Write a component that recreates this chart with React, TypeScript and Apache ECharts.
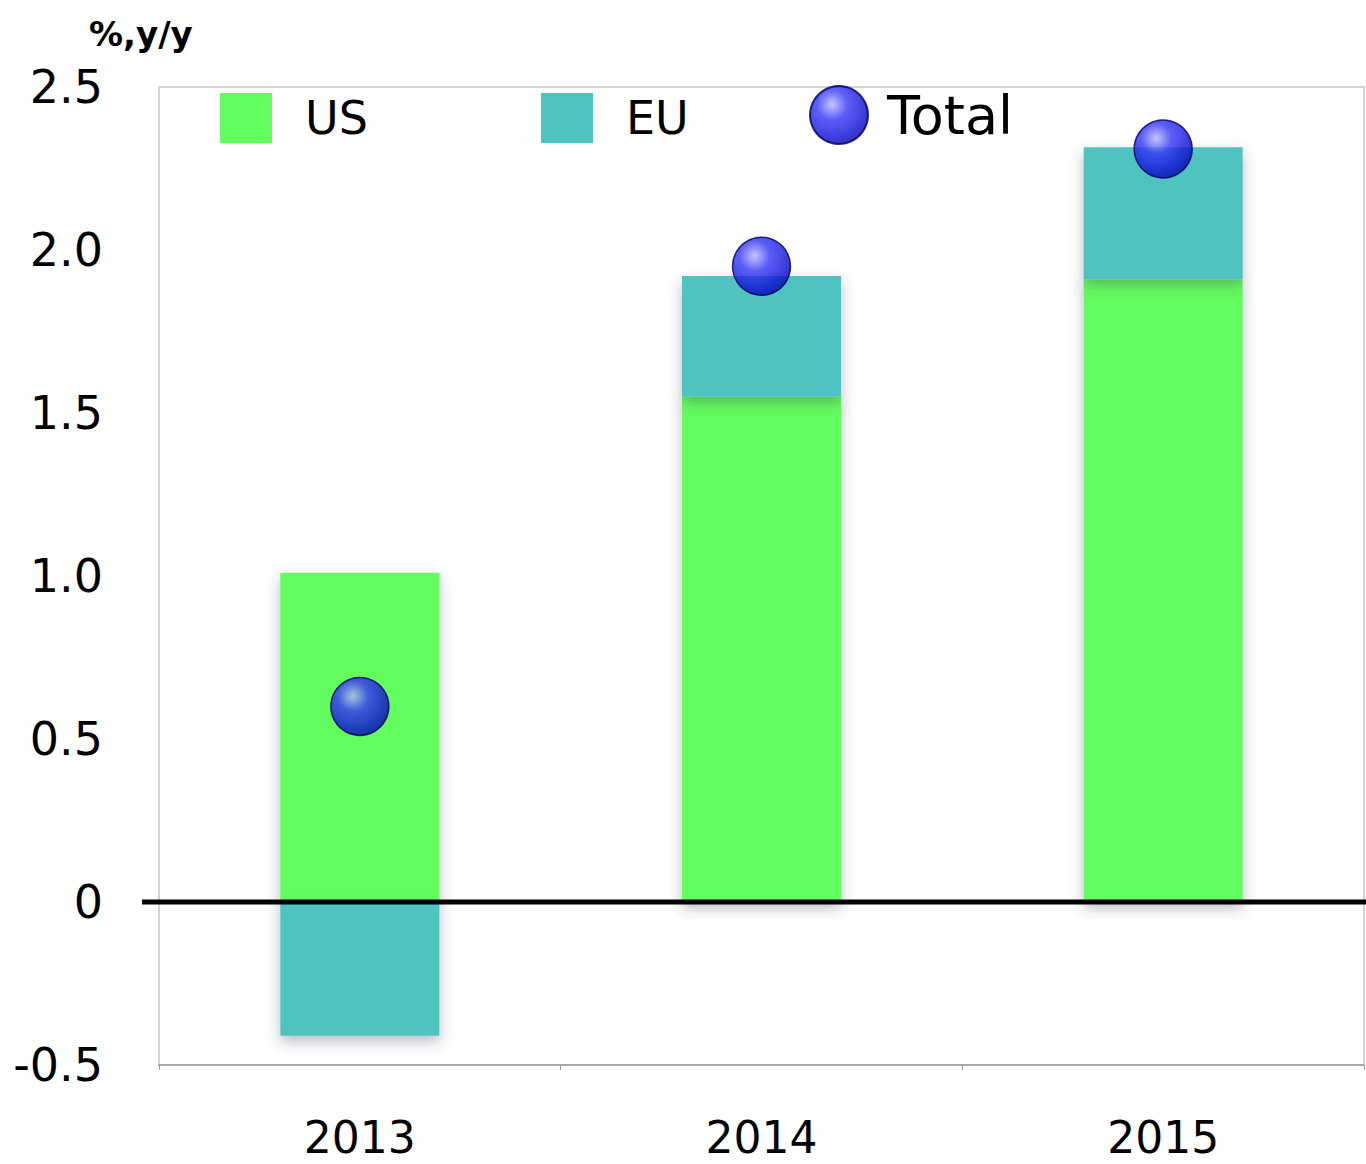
import React, { useEffect, useRef } from "react";
import * as echarts from "echarts";

const categories = ["2013", "2014", "2015"];
const usValues = [1.01, 1.55, 1.91];
const euValues = [-0.41, 0.37, 0.405];
const totalValues = [0.6, 1.95, 2.31];
const yTicks = { min: -0.5, max: 2.5, interval: 0.5 };

const FONT = "DejaVu Sans";

export default function App() {
  const ref = useRef<HTMLDivElement>(null);
  useEffect(() => {
    const chart = echarts.init(ref.current!, null, { renderer: "svg" });
    const sphere = {
      type: "radial",
      x: 0.38,
      y: 0.32,
      r: 0.75,
      colorStops: [
        { offset: 0, color: "#b4b6ff" },
        { offset: 0.35, color: "#3535f5" },
        { offset: 0.8, color: "#0a0ad0" },
        { offset: 1, color: "#00008a" },
      ],
    };
    const legendText = (size: number, pad: number) => ({
      fontFamily: FONT,
      fontSize: size,
      color: "#000",
      padding: [0, 0, 0, pad],
    });
    chart.setOption({
      animation: false,
      backgroundColor: "#fff",
      title: {
        text: "%,y/y",
        left: 84,
        top: 12,
        textStyle: { fontFamily: FONT, fontSize: 34, fontWeight: "bold", color: "#000" },
      },
      legend: [
        {
          data: ["US"],
          left: 215,
          top: 88,
          itemWidth: 52,
          itemHeight: 50,
          icon: "rect",
          textStyle: legendText(46, 28),
          selectedMode: false,
        },
        {
          data: ["EU"],
          left: 536,
          top: 88,
          itemWidth: 52,
          itemHeight: 50,
          icon: "rect",
          textStyle: legendText(46, 28),
          selectedMode: false,
        },
        {
          data: ["Total"],
          left: 804,
          top: 80,
          itemWidth: 58,
          itemHeight: 58,
          icon: "circle",
          textStyle: legendText(54, 14),
          selectedMode: false,
        },
      ],
      grid: {
        left: 159,
        right: 2,
        top: 87,
        bottom: 99,
        show: true,
        borderColor: "#c4c4c4",
        borderWidth: 1.5,
        backgroundColor: "#fff",
      },
      xAxis: {
        type: "category",
        data: categories,
        axisLine: { onZero: false, lineStyle: { color: "#9a9a9a", width: 1.5 } },
        axisTick: { show: true, length: 5, lineStyle: { color: "#9a9a9a" } },
        axisLabel: { fontFamily: FONT, fontSize: 44, color: "#000", margin: 50 },
        splitLine: { show: false },
      },
      yAxis: {
        type: "value",
        min: yTicks.min,
        max: yTicks.max,
        interval: yTicks.interval,
        axisLine: { show: false },
        axisTick: { show: false },
        splitLine: { show: false },
        axisLabel: {
          fontFamily: FONT,
          fontSize: 46,
          color: "#000",
          margin: 56,
          formatter: (v: number) => (v === 0 ? "0" : v.toFixed(1)),
        },
      },
      series: [
        {
          name: "US",
          type: "bar",
          stack: "total",
          data: usValues,
          barWidth: 159,
          itemStyle: {
            color: "#63fd5e",
            shadowColor: "rgba(60,60,90,0.35)",
            shadowBlur: 14,
            shadowOffsetY: 6,
          },
          z: 2,
        },
        {
          name: "EU",
          type: "bar",
          stack: "total",
          data: euValues,
          barWidth: 159,
          itemStyle: {
            color: "#4fc3c0",
            shadowColor: "rgba(60,60,90,0.35)",
            shadowBlur: 14,
            shadowOffsetY: 6,
          },
          z: 2,
        },
        {
          name: "Total",
          type: "scatter",
          data: totalValues,
          symbol: "circle",
          symbolSize: 58,
          itemStyle: { color: sphere, borderColor: "#000060", borderWidth: 1.5 },
          z: 5,
        },
      ],
    });
    const y0 = chart.convertToPixel({ yAxisIndex: 0 }, 0) as number;
    chart.setOption({
      graphic: [
        {
          type: "line",
          shape: { x1: 142, y1: y0, x2: 1366, y2: y0 },
          style: { stroke: "#000", lineWidth: 5 },
          z: 10,
        },
      ],
    });
    return () => chart.dispose();
  }, []);
  return (
    <div
      ref={ref}
      style={{ position: "absolute", left: 0, top: 0, width: 1366, height: 1164 }}
    />
  );
}
